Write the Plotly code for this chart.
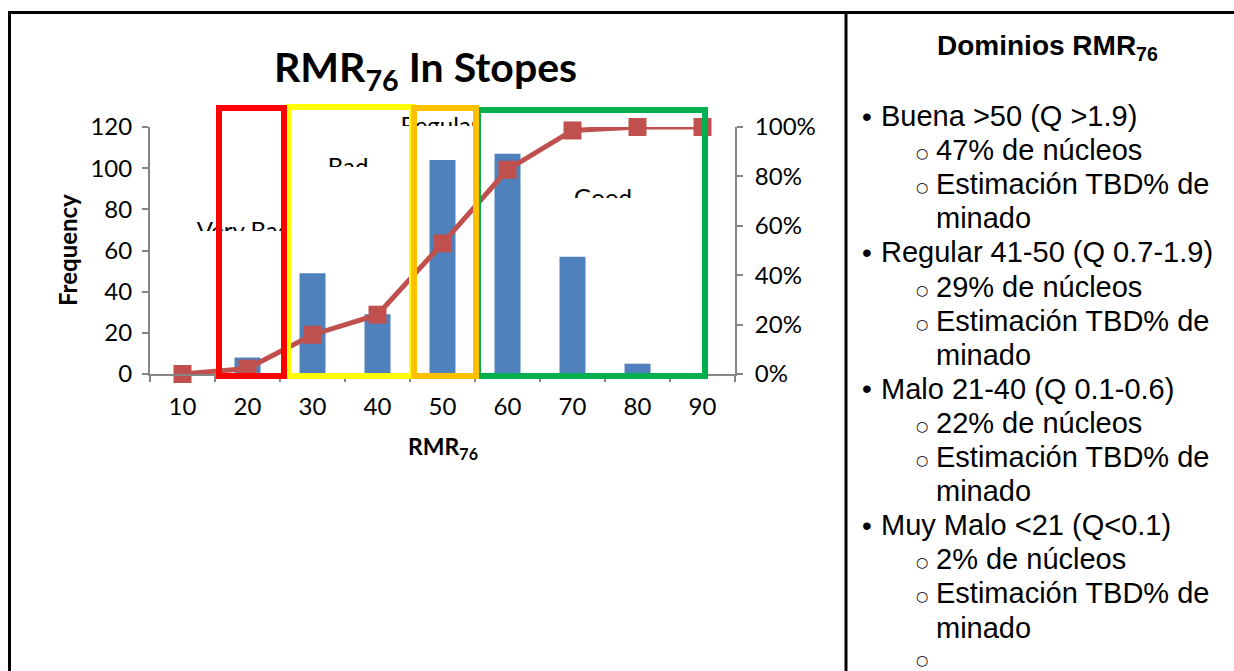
import plotly.graph_objects as go

W, H = 1234, 671

# Histogram of RMR76 values measured in stopes
rmr_bins = ["10", "20", "30", "40", "50", "60", "70", "80", "90"]
frequency = [0, 8, 49, 29, 104, 107, 57, 5, 0]
cumulative_pct = [0, 2.2, 15.9, 24.0, 52.9, 82.7, 98.6, 100, 100]

freq_ticks = [0, 20, 40, 60, 80, 100, 120]
pct_ticks = [0, 20, 40, 60, 80, 100]

# Rock mass class names written over the chart
class_labels = ["Very Bad", "Bad", "Regular", "Good"]

# Text of the right-hand column: (level, text); level 0 = bullet, 1 = sub-bullet, 2 = continuation
domain_lines = [
    (0, "Buena >50 (Q >1.9)"),
    (1, "47% de núcleos"),
    (1, "Estimación TBD% de"),
    (2, "minado"),
    (0, "Regular 41-50 (Q 0.7-1.9)"),
    (1, "29% de núcleos"),
    (1, "Estimación TBD% de"),
    (2, "minado"),
    (0, "Malo 21-40 (Q 0.1-0.6)"),
    (1, "22% de núcleos"),
    (1, "Estimación TBD% de"),
    (2, "minado"),
    (0, "Muy Malo <21 (Q<0.1)"),
    (1, "2% de núcleos"),
    (1, "Estimación TBD% de"),
    (2, "minado"),
    (1, ""),
]


def px(x):
    return x / W


def py(y):
    return 1 - y / H


# Layout geometry in pixels
plot_l, plot_r, plot_t, plot_b = 150, 735, 127, 374
label_pos = [(244, 233), (348, 169), (440, 128), (603, 200)]
label_cover = [(185, 231, 305, 255), (315, 167, 380, 190), (390, 126, 490, 150), (565, 198, 640, 222)]
# class boxes: (x0, x1, y0, y1, colour)
class_boxes = [
    (288, 412, 107, 376, "#FFFF00"),
    (219, 284, 108, 376, "#FF0000"),
    (478, 705, 110, 376, "#00B050"),
    (414, 476, 108, 376, "#FFC000"),
]

CH_FONT = "Lato"
TX_FONT = "Liberation Sans"
AXIS_GREY = "#868686"

fig = go.Figure()

fig.add_trace(go.Bar(
    x=rmr_bins, y=frequency, width=0.4,
    marker=dict(color="#4F81BD", line=dict(width=0)),
    xaxis="x", yaxis="y", showlegend=False,
))
fig.add_trace(go.Scatter(
    x=rmr_bins, y=[v / 100 for v in cumulative_pct],
    mode="lines+markers",
    line=dict(color="#C0504D", width=5),
    marker=dict(symbol="square", size=18, color="#C0504D"),
    xaxis="x", yaxis="y2", showlegend=False, cliponaxis=False,
))
# Class names on a pixel-space overlay axis
fig.add_trace(go.Scatter(
    x=[p[0] for p in label_pos], y=[p[1] for p in label_pos],
    text=class_labels, mode="text", textposition="middle center",
    textfont=dict(family=CH_FONT, size=24, color="#000000"),
    xaxis="x3", yaxis="y3", showlegend=False, hoverinfo="skip", cliponaxis=False,
))

shapes = []
for (x0, y0, x1, y1) in label_cover:
    shapes.append(dict(type="rect", xref="paper", yref="paper",
                       x0=px(x0), x1=px(x1), y0=py(y0), y1=py(y1),
                       fillcolor="white", line=dict(width=0), layer="above"))
for (x0, x1, y0, y1, c) in class_boxes:
    shapes.append(dict(type="rect", xref="paper", yref="paper",
                       x0=px(x0), x1=px(x1), y0=py(y1), y1=py(y0),
                       line=dict(color=c, width=6), fillcolor="rgba(0,0,0,0)", layer="above"))
# Table borders
border = dict(color="black", width=3)
shapes += [
    dict(type="line", xref="paper", yref="paper", x0=px(8), x1=1, y0=py(12.5), y1=py(12.5), line=border),
    dict(type="line", xref="paper", yref="paper", x0=px(9.5), x1=px(9.5), y0=py(12), y1=0, line=border),
    dict(type="line", xref="paper", yref="paper", x0=px(846), x1=px(846), y0=py(12), y1=0, line=border),
]

annotations = [
    dict(text="<b>RMR<sub>76</sub> In Stopes</b>", x=px(425), y=py(69), xref="paper", yref="paper",
         showarrow=False, font=dict(family=CH_FONT, size=41, color="#000000"), xanchor="center", yanchor="middle"),
    dict(text="<b>Frequency</b>", x=px(68), y=py(250), xref="paper", yref="paper", textangle=-90,
         showarrow=False, font=dict(family=CH_FONT, size=24, color="#000000"), xanchor="center", yanchor="middle"),
    dict(text="<b>RMR<sub>76</sub></b>", x=px(443), y=py(447), xref="paper", yref="paper",
         showarrow=False, font=dict(family=CH_FONT, size=23, color="#000000"), xanchor="center", yanchor="middle"),
    dict(text="<b>Dominios RMR<sub>76</sub></b>", x=px(1047), y=py(48), xref="paper", yref="paper",
         showarrow=False, font=dict(family=TX_FONT, size=28, color="#000000"), xanchor="center", yanchor="middle"),
]

line_y0, line_step = 116, 34.1
for i, (lvl, txt) in enumerate(domain_lines):
    line_y = line_y0 + i * line_step
    yy = py(line_y)
    if lvl == 0:
        annotations.append(dict(text="•", x=px(860), y=yy, xref="paper", yref="paper", showarrow=False,
                                font=dict(family=TX_FONT, size=28, color="#000000"), xanchor="left", yanchor="middle"))
        tx = 879
    else:
        if lvl == 1:
            annotations.append(dict(text="○", x=px(922), y=py(min(line_y + 3, 660)), xref="paper",
                                    yref="paper", showarrow=False, borderpad=0,
                                    font=dict(family="DejaVu Sans", size=14, color="#000000"),
                                    xanchor="center", yanchor="middle"))
        tx = 934
    if txt:
        annotations.append(dict(text=txt, x=px(tx), y=yy, xref="paper", yref="paper", showarrow=False,
                                font=dict(family=TX_FONT, size=29, color="#000000"),
                                xanchor="left", yanchor="middle"))

tick_font = dict(family=CH_FONT, size=24, color="#000000")
fig.update_layout(
    width=W, height=H, autosize=False,
    margin=dict(l=0, r=0, t=0, b=0, pad=0, autoexpand=False),
    paper_bgcolor="white", plot_bgcolor="rgba(0,0,0,0)",
    xaxis=dict(domain=[px(plot_l), px(plot_r)], type="category", anchor="y", automargin=False,
               showline=True, linecolor=AXIS_GREY, linewidth=2,
               ticks="outside", tickson="boundaries", ticklen=6, tickcolor=AXIS_GREY, tickwidth=2,
               tickfont=tick_font, ticklabelstandoff=10,
               showgrid=False, zeroline=False, range=[-0.5, 8.5]),
    yaxis=dict(domain=[py(plot_b), py(plot_t)], anchor="x", range=[0, 120], automargin=False,
               tickvals=freq_ticks, ticktext=[str(v) for v in freq_ticks],
               showline=True, linecolor=AXIS_GREY, linewidth=2,
               ticks="outside", ticklen=6, tickcolor=AXIS_GREY, tickwidth=2,
               tickfont=tick_font, ticklabelstandoff=5,
               showgrid=False, zeroline=False),
    yaxis2=dict(overlaying="y", side="right", anchor="x", range=[0, 1], automargin=False,
                tickvals=[v / 100 for v in pct_ticks], ticktext=[f"{v}%" for v in pct_ticks],
                showline=True, linecolor=AXIS_GREY, linewidth=2,
                ticks="outside", ticklen=6, tickcolor=AXIS_GREY, tickwidth=2,
                tickfont=tick_font, ticklabelstandoff=7,
                showgrid=False, zeroline=False),
    xaxis3=dict(domain=[0, 1], anchor="y3", range=[0, W], visible=False, fixedrange=True, automargin=False),
    yaxis3=dict(domain=[0, 1], anchor="x3", range=[H, 0], visible=False, fixedrange=True, automargin=False),
    shapes=shapes,
    annotations=annotations,
)

fig.write_html("out.html")
